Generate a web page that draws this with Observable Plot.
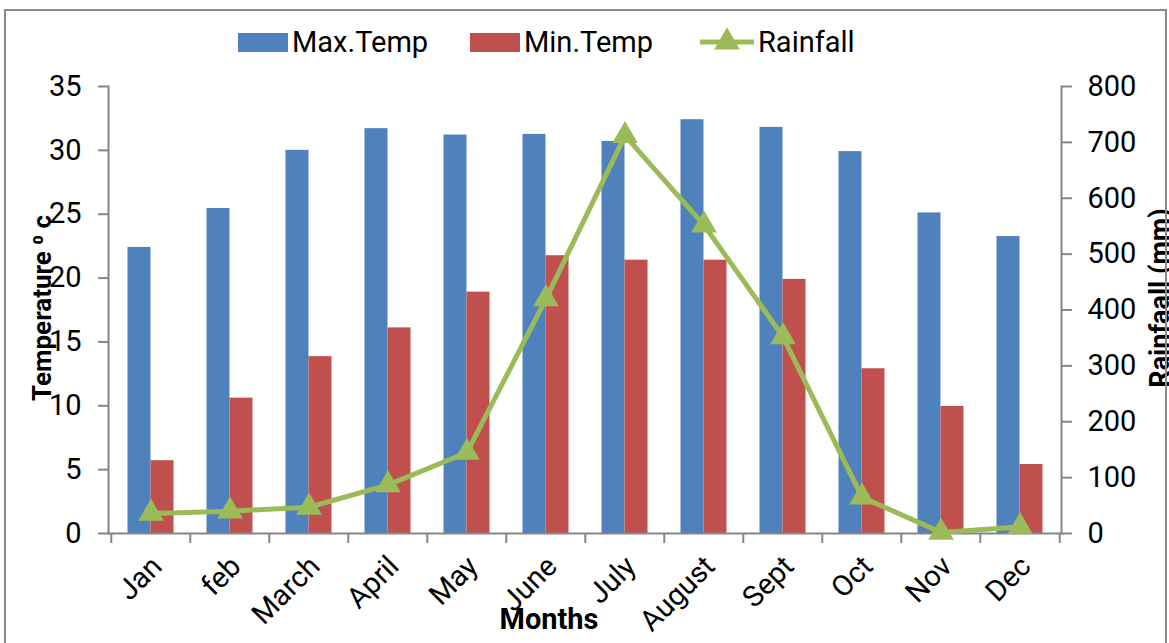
<!DOCTYPE html>
<html>
<head>
<meta charset="utf-8">
<script src="https://cdn.jsdelivr.net/npm/d3@7"></script>
<script src="https://cdn.jsdelivr.net/npm/@observablehq/plot@0.6"></script>
<style>
  html, body { margin: 0; padding: 0; background: #fff; }
  #wrap { position: relative; width: 1169px; height: 643px; overflow: hidden; font-family: Roboto, sans-serif; }
  #border { position: absolute; left: 4px; top: 9px; width: 1163px; height: 660px; border: 2px solid #8a8a8a; box-sizing: border-box; pointer-events: none; }
  #chart { position: absolute; left: 0; top: 0; }
  .lg { position: absolute; top: 24px; height: 36px; display: flex; align-items: center; font-size: 29px; color: #000; }
  .sw { width: 50px; height: 19px; margin-right: 4px; }
</style>
</head>
<body>
<div id="wrap">
  <div id="chart"></div>
  <div id="legend"></div>
  <div id="border"></div>
</div>
<script>
const months = ["Jan","feb","March","April","May","June","July","August","Sept","Oct","Nov","Dec"];
const maxTemp = [22.4,25.45,30.0,31.7,31.2,31.25,30.7,32.4,31.8,29.9,25.1,23.25];
const minTemp = [5.7,10.6,13.85,16.1,18.9,21.75,21.4,21.4,19.9,12.9,9.95,5.4];
const rainfall = [36,40,47,87,145,420,712,552,352,65,2,12];
const tempTicks = [0,5,10,15,20,25,30,35];
const rainTicks = [0,100,200,300,400,500,600,700,800];
const seriesNames = ["Max.Temp","Min.Temp","Rainfall"];
const colors = ["#4F81BD","#C0504D","#9BBB59"];

const W = 1169, H = 643;
const ml = 108, mr = 108, mt = 86, mb = 110;
const step = (W - ml - mr) / months.length;
const pad = 0.71;
const bw = step * (1 - pad);
const k = 35 / 800; // rainfall -> temperature axis units

const rows = months.map((m, i) => ({month: m, max: maxTemp[i], min: minTemp[i], rain: rainfall[i], rainY: rainfall[i] * k}));
const axisGrey = "#868686";

const chart = Plot.plot({
  width: W, height: H,
  marginLeft: ml, marginRight: mr, marginTop: mt, marginBottom: mb,
  style: {fontFamily: "Roboto, sans-serif", fontSize: "29px", color: "#000", background: "transparent", overflow: "visible"},
  x: {type: "band", domain: months, paddingInner: pad, paddingOuter: pad / 2, align: 0.5},
  y: {domain: [0, 35]},
  marks: [
    Plot.barY(rows, {x: "month", y: "max", fill: colors[0], dx: -bw / 2}),
    Plot.barY(rows, {x: "month", y: "min", fill: colors[1], dx: bw / 2}),
    Plot.frame({anchor: "bottom", stroke: axisGrey, strokeWidth: 2}),
    Plot.frame({anchor: "left", stroke: axisGrey, strokeWidth: 2}),
    Plot.frame({anchor: "right", stroke: axisGrey, strokeWidth: 2}),
    Plot.axisY(tempTicks, {anchor: "left", tickSize: 10, tickFormat: () => "", stroke: axisGrey, strokeWidth: 2, label: null}),
    Plot.axisY(tempTicks, {anchor: "left", tickSize: 0, tickPadding: 27, label: null}),
    Plot.axisY(rainTicks.map(v => v * k), {anchor: "right", tickSize: 10, tickPadding: 16, stroke: axisGrey, strokeWidth: 2, label: null, tickFormat: d => String(Math.round(d / k))}),
    Plot.axisX({tickSize: 10, tickFormat: () => "", dx: -step / 2, stroke: axisGrey, strokeWidth: 2, label: null}),
    Plot.axisX(["Dec"], {tickSize: 10, tickFormat: () => "", dx: step / 2, stroke: axisGrey, strokeWidth: 2, label: null}),
    Plot.axisX({tickSize: 0, tickRotate: -45, tickPadding: 28, dx: 6, label: null}),
    Plot.line(rows, {x: "month", y: "rainY", stroke: colors[2], strokeWidth: 5}),
    Plot.dot(rows, {x: "month", y: "rainY", symbol: "triangle", r: 9.5, fill: colors[2], stroke: "none"}),
    Plot.text(["Temperature \u2070 c"], {text: d => d, frameAnchor: "left", textAnchor: "middle", dx: -66, dy: -2, rotate: -90, fontWeight: "bold", fontSize: 26}),
    Plot.text(["Rainfaall (mm)"], {text: d => d, frameAnchor: "right", textAnchor: "middle", dx: 99, dy: -12, rotate: -90, fontWeight: "bold", fontSize: 27}),
    Plot.text(["Months"], {text: d => d, frameAnchor: "bottom", lineAnchor: "middle", dx: -36, dy: 86, fontWeight: "bold", fontSize: 29})
  ]
});
document.getElementById("chart").appendChild(chart);

// Legend
const legend = document.getElementById("legend");
const lefts = [238, 470, 700];
seriesNames.forEach((name, i) => {
  const item = document.createElement("div");
  item.className = "lg";
  item.style.left = lefts[i] + "px";
  if (i < 2) {
    const sw = document.createElement("div");
    sw.className = "sw";
    sw.style.background = colors[i];
    item.appendChild(sw);
  } else {
    const ns = "http://www.w3.org/2000/svg";
    const svg = document.createElementNS(ns, "svg");
    svg.setAttribute("width", 54); svg.setAttribute("height", 30);
    svg.style.marginRight = "4px";
    const ln = document.createElementNS(ns, "line");
    ln.setAttribute("x1", 0); ln.setAttribute("x2", 54); ln.setAttribute("y1", 15); ln.setAttribute("y2", 15);
    ln.setAttribute("stroke", colors[2]); ln.setAttribute("stroke-width", 5);
    const tri = document.createElementNS(ns, "path");
    tri.setAttribute("d", d3.symbol(d3.symbolTriangle, Math.PI * 9.5 * 9.5)());
    tri.setAttribute("transform", "translate(27,15)");
    tri.setAttribute("fill", colors[2]);
    svg.appendChild(ln); svg.appendChild(tri);
    item.appendChild(svg);
  }
  const t = document.createElement("span");
  t.textContent = name;
  item.appendChild(t);
  legend.appendChild(item);
});
</script>
</body>
</html>
